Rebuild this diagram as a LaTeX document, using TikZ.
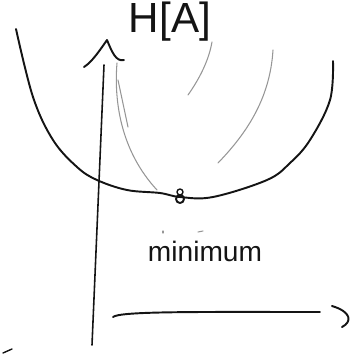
\documentclass[tikz,border=0pt]{standalone}
\usepackage{fontspec}
\setmainfont{Liberation Sans}
\usetikzlibrary{positioning}
\definecolor{ink}{RGB}{20,20,20}
\definecolor{pencil}{RGB}{150,150,150}

\begin{document}
\begin{tikzpicture}[x=0.02cm, y=-0.02cm,
  stroke/.style={draw=ink, line width=1.1pt, line cap=round, line join=round},
  faint/.style={draw=pencil, line width=0.6pt, line cap=round},
  label/.style={text=ink, inner sep=0pt}
]
\useasboundingbox (0,0) rectangle (360,360);
% labels
\node[label, font=\fontsize{24}{26}\selectfont, anchor=north] (HA) at (170,2) {H[A]};
\node[label, font=\fontsize{16}{18}\selectfont] (mini) at (205,251) {minimum};
% axes
\coordinate (origin) at (92,345);
\coordinate (ytop) at (104,65);
\coordinate (xstart) at (113,317);
\coordinate (xend) at (320,312);
\draw[stroke, line width=0.9pt] (origin) -- (ytop);
\draw[stroke] (84,67) .. controls (92,62) and (100,50) .. (107,40) .. controls (112,52) and (116,62) .. (124,60);
\draw[stroke] (xstart) .. controls (120,311) and (200,312) .. (xend);
\draw[stroke] (332,306) .. controls (352,312) and (352,322) .. (342,327);
% the bowl
\draw[stroke] plot[smooth, tension=0.6] coordinates {(16,29) (33,97) (53,140) (77,167) (97,180) (127,190) (160,193) (180,197) (213,197) (267,180) (290,163) (310,140) (330,100) (333,61)};
\node[circle, stroke, inner sep=0pt, minimum size=0.16cm] (minpt) at (180,199) {};
\draw[stroke, line width=0.8pt] (180,192) circle[radius=3];
% pencil lines
\draw[faint] (117,63) .. controls (114,100) and (120,150) .. (157,190);
\draw[faint] (118,80) -- (128,127);
\draw[faint] (212,42) .. controls (208,65) and (195,85) .. (188,95);
\draw[faint] (273,50) .. controls (270,100) and (245,135) .. (218,163);
% stray marks
\draw[faint] (163,231) -- (163,233);
\draw[faint] (198,232) -- (203,231);
\draw[stroke, line width=0.8pt] (3,353) -- (12,349);
\end{tikzpicture}
\end{document}
